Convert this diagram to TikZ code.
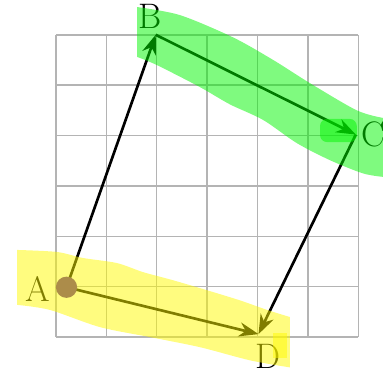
\documentclass[tikz,border=0pt]{standalone}
\usetikzlibrary{arrows.meta}
\definecolor{gridgray}{RGB}{180,180,180}
\definecolor{hlgreen}{RGB}{0,245,0}
\definecolor{hlyellow}{RGB}{255,250,0}
\definecolor{dotbrown}{RGB}{172,140,74}
\tikzset{
  gridline/.style={draw=gridgray, line width=0.85pt},
  vec/.style={
    line width=1.5pt,
    -{Stealth[length=11pt,width=8pt]}
  },
  letter/.style={
    font=\fontsize{20}{24}\selectfont,
    inner sep=0pt
  },
  highlight/.style={
    fill=#1,
    opacity=0.5
  },
  point-dot/.style={
    circle,
    fill=dotbrown,
    minimum size=12pt,
    inner sep=0pt
  }
}

\begin{document}
\begin{tikzpicture}
  \useasboundingbox (-1.11,-0.77) rectangle (6.49,6.69);
  \draw[gridline] (0,0) grid (6,6);
  % corners
  \coordinate (A) at (0.21,0.99);
  \coordinate (B) at (1.98,6);
  \coordinate (C) at (5.95,4.02);
  \coordinate (D) at (4.02,0.06);
  \draw[vec] (A) -- (B);
  \draw[vec] (B) -- (C);
  \draw[vec] (C) -- (D);
  \draw[vec] (A) -- (D);
  \node[letter] (labA) at (-0.36,0.95) {A};
  \node[letter] (labB) at (1.87,6.36) {B};
  \node[letter] (labC) at (6.3,4.03) {C};
  \node[letter] (labD) at (4.2,-0.38) {D};
  % highlighter strokes
  \fill[highlight=hlgreen]
    plot[smooth] coordinates {(1.61,6.55) (2.46,6.39) (3.51,5.95) (4.31,5.50)
      (5.04,5.04) (5.97,4.50) (6.49,4.35)}
    -- plot[smooth] coordinates {(6.49,3.18) (6.09,3.25) (5.44,3.51) (4.78,3.85)
      (4.11,4.31) (3.45,4.62) (2.86,4.96) (2.00,5.40) (1.61,5.56)}
    -- cycle;
  \fill[highlight=hlgreen, rounded corners=4pt] (5.24,3.87) rectangle (5.97,4.33);
  \fill[highlight=hlyellow]
    plot[smooth] coordinates {(-0.77,1.73) (0.02,1.69) (0.54,1.57) (1.21,1.47)
      (1.73,1.29) (2.32,1.13) (3.00,0.93) (3.65,0.73) (4.19,0.54) (4.64,0.40)}
    -- plot[smooth] coordinates {(4.64,-0.60) (3.85,-0.46) (2.86,-0.20)
      (1.87,0.00) (0.87,0.20) (-0.12,0.54) (-0.77,0.64)}
    -- cycle;
  \fill[highlight=hlyellow] (4.31,-0.42) rectangle (4.58,0.08);
  \node[point-dot] (dotA) at (A) {};
\end{tikzpicture}
\end{document}
